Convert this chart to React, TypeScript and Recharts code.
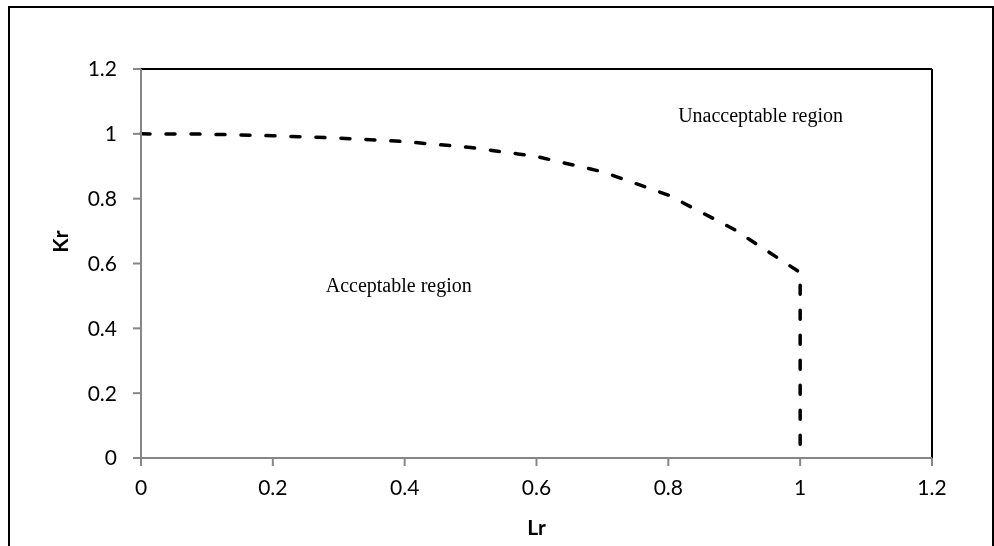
import { LineChart, Line, XAxis, YAxis, ReferenceLine, ReferenceDot } from 'recharts';

// FAD boundary
const lr = [0, 0.1, 0.2, 0.3, 0.4, 0.5, 0.6, 0.7, 0.8, 0.9, 1.0, 1.0];
const kr = [1.0, 0.999, 0.994, 0.987, 0.976, 0.958, 0.93, 0.883, 0.811, 0.705, 0.572, 0];
const xTicks = [0, 0.2, 0.4, 0.6, 0.8, 1, 1.2];
const yTicks = [0, 0.2, 0.4, 0.6, 0.8, 1, 1.2];
const regionNotes = [
    { name: 'Acceptable region', x: 0.391, y: 0.534 },
    { name: 'Unacceptable region', x: 0.94, y: 1.058 },
];

const data = lr.map((x, i) => ({ lr: x, kr: kr[i] }));

const tickFont = { fontFamily: 'Lato, "Open Sans", sans-serif', fontSize: 21, fill: '#000' };
const axisGray = '#868686';

const noteLabel = (text: string) => (props: any) => {
    const { viewBox } = props;
    return (
        <text
            x={viewBox.x}
            y={viewBox.y}
            textAnchor="middle"
            dominantBaseline="central"
            style={{ fontFamily: '"Liberation Serif", "Times New Roman", serif', fontSize: 20, fill: '#000' }}
        >
            {text}
        </text>
    );
};

export default function App() {
    return (
        <div style={{ position: 'relative', width: 986, height: 538 }}>
            <div style={{
                position: 'fixed', left: 8, top: 6, width: 986, height: 600,
                border: '2px solid #000', boxSizing: 'border-box', pointerEvents: 'none',
            }} />
            <LineChart
                width={986}
                height={538}
                data={data}
                margin={{ top: 61, right: 62, bottom: 0, left: 0 }}
            >
                <XAxis
                    dataKey="lr"
                    type="number"
                    domain={[0, 1.2]}
                    ticks={xTicks}
                    interval={0}
                    height={88}
                    tickSize={8}
                    tickMargin={14}
                    tick={tickFont}
                    axisLine={{ stroke: axisGray, strokeWidth: 2 }}
                    tickLine={{ stroke: axisGray, strokeWidth: 2 }}
                    label={(props: any) => {
                        const { viewBox } = props;
                        return (
                            <text
                                x={viewBox.x + viewBox.width / 2}
                                y={viewBox.y + 68}
                                textAnchor="middle"
                                dominantBaseline="central"
                                style={{ ...tickFont, fontWeight: 700 }}
                            >
                                Lr
                            </text>
                        );
                    }}
                />
                <YAxis
                    type="number"
                    domain={[0, 1.2]}
                    ticks={yTicks}
                    interval={0}
                    width={133}
                    tickSize={8}
                    tickMargin={16}
                    tick={tickFont}
                    axisLine={{ stroke: axisGray, strokeWidth: 2 }}
                    tickLine={{ stroke: axisGray, strokeWidth: 2 }}
                    label={(props: any) => {
                        const { viewBox } = props;
                        const cx = viewBox.x + 51;
                        const cy = viewBox.y + viewBox.height / 2 - 22;
                        return (
                            <text
                                x={cx}
                                y={cy}
                                transform={`rotate(-90 ${cx} ${cy})`}
                                textAnchor="middle"
                                dominantBaseline="central"
                                style={{ ...tickFont, fontWeight: 700 }}
                            >
                                Kr
                            </text>
                        );
                    }}
                />
                <ReferenceLine y={1.2} stroke="#000" strokeWidth={2} />
                <ReferenceLine x={1.2} stroke="#000" strokeWidth={2} />
                <Line
                    dataKey="kr"
                    type="linear"
                    stroke="#000"
                    strokeWidth={3.5}
                    strokeDasharray="9 16"
                    strokeLinecap="round"
                    dot={false}
                    activeDot={false}
                    isAnimationActive={false}
                />
                {regionNotes.map((n) => (
                    <ReferenceDot
                        key={n.name}
                        x={n.x}
                        y={n.y}
                        r={0}
                        stroke="none"
                        fill="none"
                        label={noteLabel(n.name)}
                    />
                ))}
            </LineChart>
        </div>
    );
}
